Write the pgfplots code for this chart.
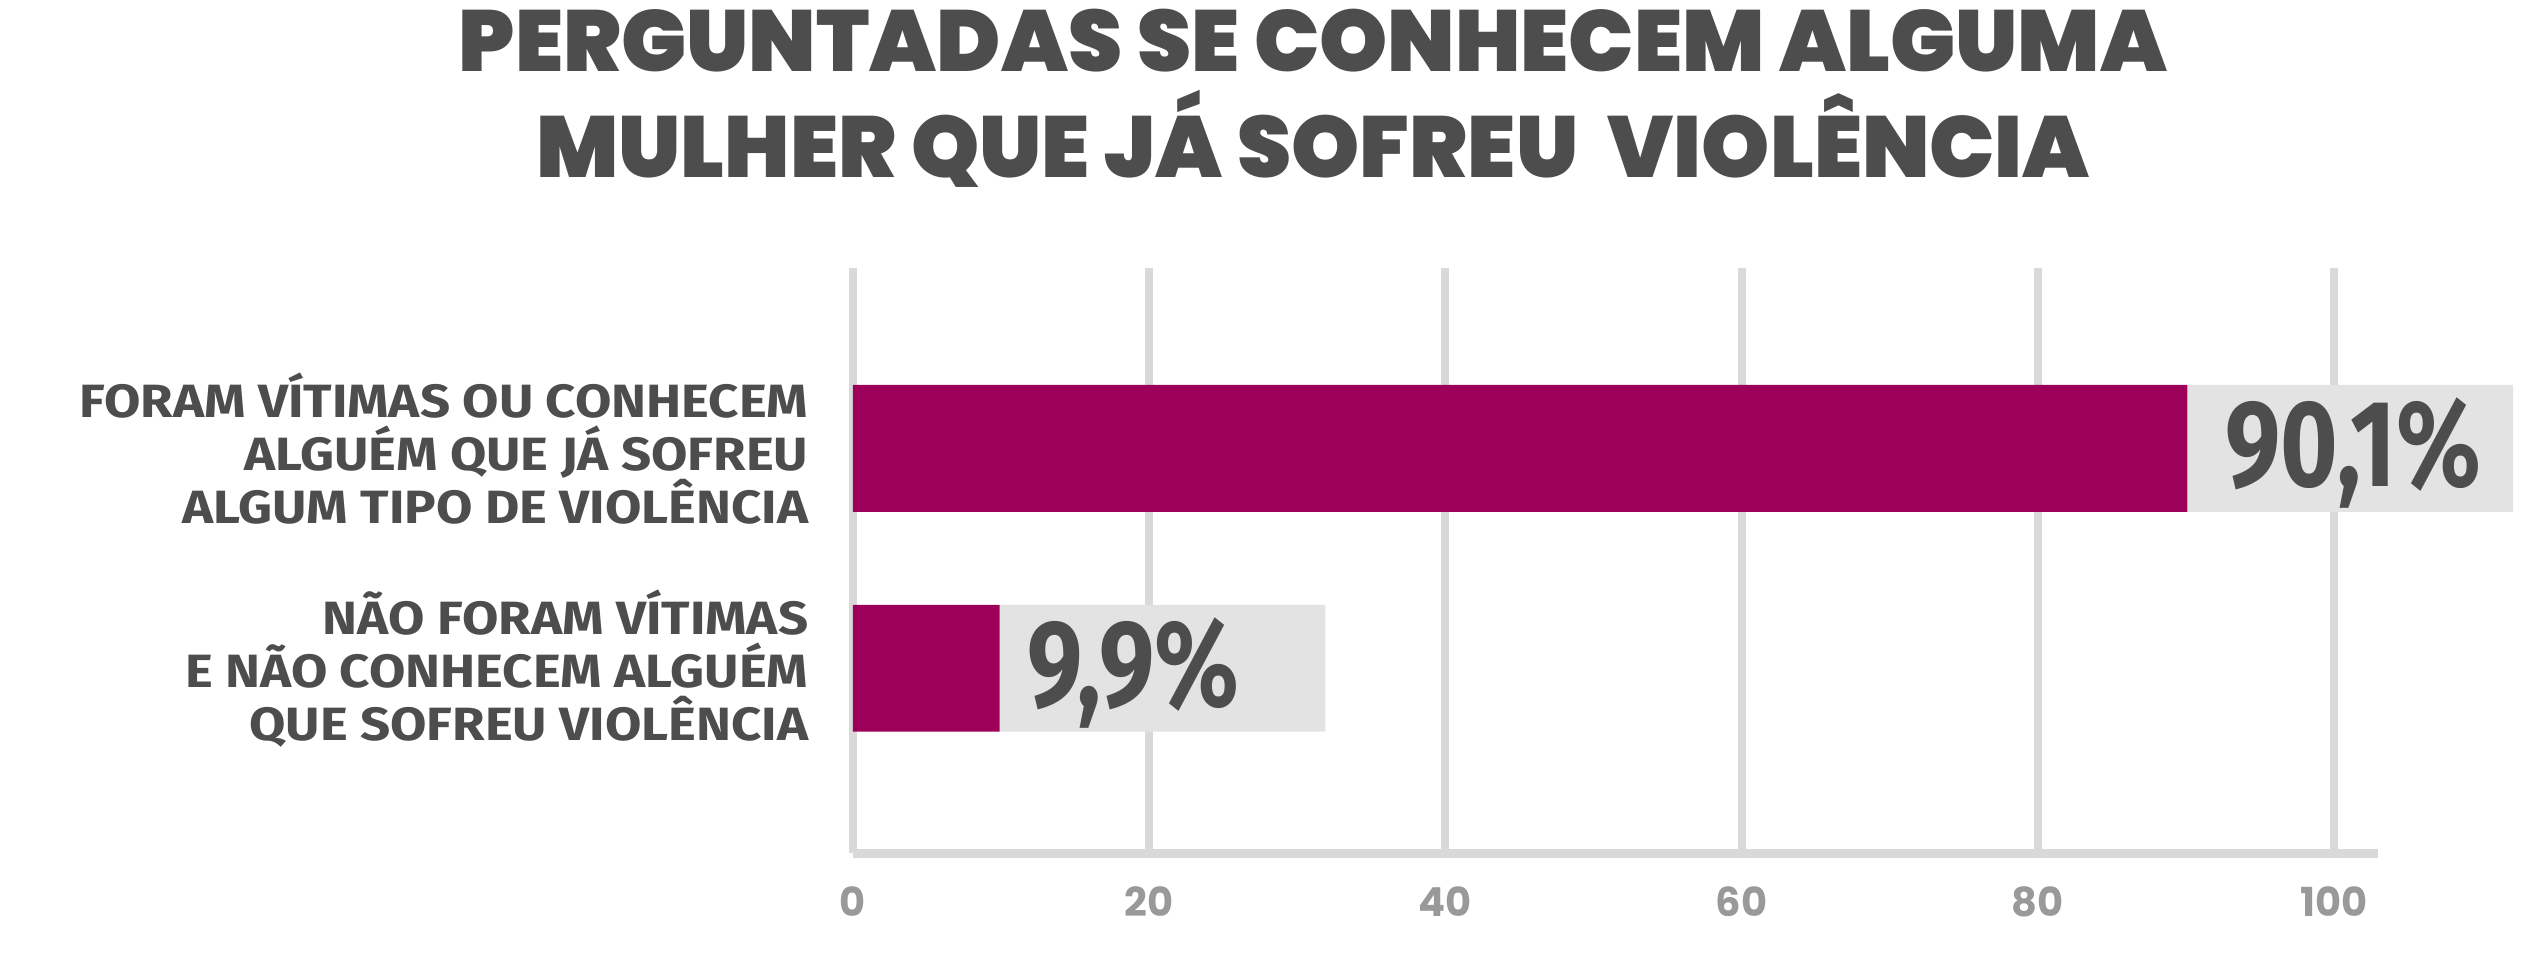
\documentclass[border=0pt]{standalone}
\usepackage{pgfplots}
\pgfplotsset{compat=1.18}
\usepackage{fontspec}
\setmainfont{Fira Sans}
\newfontfamily\titlefont{Poppins Black}
\newfontfamily\tickfont{Poppins}
\newfontfamily\catfont{Fira Sans}[FakeStretch=1.13]
\newfontfamily\valfont{Fira Sans}[FakeStretch=0.8]
\definecolor{barc}{HTML}{9C0058}
\definecolor{boxc}{HTML}{E3E3E3}
\definecolor{txt}{HTML}{4D4D4D}
\definecolor{gridc}{HTML}{D9D9D9}
\definecolor{tickc}{HTML}{999999}
\begin{document}
\begin{tikzpicture}
\path[use as bounding box] (0,0) rectangle (764.1pt,290.4pt);
\node[align=center, text=txt, font=\titlefont\fontsize{26}{31.8}\selectfont] at (393.9pt,261pt) {PERGUNTADAS SE CONHECEM ALGUMA\\MULHER QUE JÁ SOFREU\ \ VIOLÊNCIA};
\begin{axis}[
  at={(255.9pt,34.5pt)}, anchor=south west,
  scale only axis, width=457.6pt, height=175.5pt,
  xmin=0, xmax=103, ymin=0.16, ymax=2.82,
  xbar stacked, bar width=0.577,
  axis x line*=bottom, axis y line*=left,
  x axis line style={gridc, line width=2.7pt, -},
  y axis line style={draw=none},
  xtick={0,20,40,60,80,100},
  xmajorgrids, grid style={gridc, line width=2.4pt},
  major tick length=0,
  ytick={1,2},
  yticklabels={{NÃO FORAM VÍTIMAS\\E NÃO CONHECEM ALGUÉM\\QUE SOFREU VIOLÊNCIA},{FORAM VÍTIMAS OU CONHECEM\\ALGUÉM QUE JÁ SOFREU\\ALGUM TIPO DE VIOLÊNCIA}},
  yticklabel style={align=right, anchor=east, inner sep=0pt, xshift=-13.2pt, text=txt, font=\catfont\bfseries\fontsize{14}{15.9}\selectfont},
  /pgf/number format/assume math mode=true,
  xticklabel style={anchor=center, yshift=-14.7pt, text=tickc, font=\tickfont\bfseries\fontsize{12}{12}\selectfont},
  clip=false,
]
\addplot[fill=barc, draw=none] coordinates {(90.1,2) (9.9,1)};
\addplot[fill=boxc, draw=none, nodes near coords, point meta=explicit symbolic,
  every node near coord/.append style={anchor=center, xshift=1pt, yshift=-1.5pt, text=txt, font=\valfont\bfseries\fontsize{37}{37}\selectfont}]
  coordinates {(22,2) [{90,1\%}] (22,1) [{\hspace*{-19.5pt}9,9\%}]};
\end{axis}
\end{tikzpicture}
\end{document}
